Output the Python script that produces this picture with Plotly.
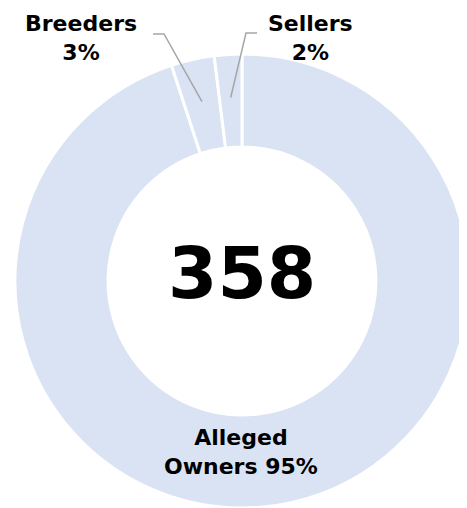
import math
import plotly.graph_objects as go

categories = ["Alleged Owners", "Breeders", "Sellers"]
counts = [340, 11, 7]
pct_labels = ["95%", "3%", "2%"]
total_label = "358"

# page body has an 8px default margin; figure is shifted by it
OFF = 8
W, H = 472, 508 - OFF
FILL = "#dae3f3"
FONT = "DejaVu Sans"

# pie geometry in window pixels
cx, cy, R = 242, 281, 227
hole = 0.59

def px(x):
    return (x - OFF) / W

def py(y):
    return 1 - (y - OFF) / H

fig = go.Figure(go.Pie(
    labels=categories,
    values=counts,
    hole=hole,
    sort=False,
    direction="clockwise",
    rotation=0,
    textinfo="none",
    hoverinfo="label+percent",
    marker=dict(colors=[FILL] * 3, line=dict(color="white", width=3)),
    domain=dict(x=[px(cx - R), px(cx + R)], y=[py(cy + R), py(cy - R)]),
    showlegend=False,
))

# mid angles of slices (clockwise from 12 o'clock)
tot = sum(counts)
cum = 0
mids = []
for v in counts:
    mids.append((cum + v / 2) / tot * 2 * math.pi)
    cum += v

def pt(theta, r):
    return cx + r * math.sin(theta), cy - r * math.cos(theta)

txt = dict(family=FONT, size=22, color="black", weight="bold")
common = dict(showarrow=False, xref="paper", yref="paper", xanchor="center", yanchor="middle")

annotations = [
    dict(x=px(242), y=py(273), text=total_label,
         font=dict(family=FONT, size=71, color="black", weight="bold"), **common),
    dict(x=px(241), y=py(452),
         text=f"{categories[0].split()[0]}<br>{categories[0].split()[1]} {pct_labels[0]}",
         font=txt, **common),
    dict(x=px(81), y=py(38), text=f"{categories[1]}<br>{pct_labels[1]}", font=txt, **common),
    dict(x=px(310), y=py(38), text=f"{categories[2]}<br>{pct_labels[2]}", font=txt, **common),
]

shapes = []
# Breeders leader
ex, ey = pt(mids[1], 0.81 * R)
shapes.append(dict(type="path", xref="paper", yref="paper",
                   path=f"M {px(153)} {py(34)} L {px(164)} {py(34)} L {px(ex)} {py(ey)}",
                   line=dict(color="#a6a6a6", width=1.5)))
# Sellers leader
ex, ey = pt(mids[2], 0.81 * R)
shapes.append(dict(type="path", xref="paper", yref="paper",
                   path=f"M {px(257)} {py(33)} L {px(246)} {py(33)} L {px(ex)} {py(ey)}",
                   line=dict(color="#a6a6a6", width=1.5)))

fig.update_layout(
    width=W, height=H,
    margin=dict(l=0, r=0, t=0, b=0),
    paper_bgcolor="white", plot_bgcolor="white",
    annotations=annotations, shapes=shapes,
)

fig.write_html("out.html")
